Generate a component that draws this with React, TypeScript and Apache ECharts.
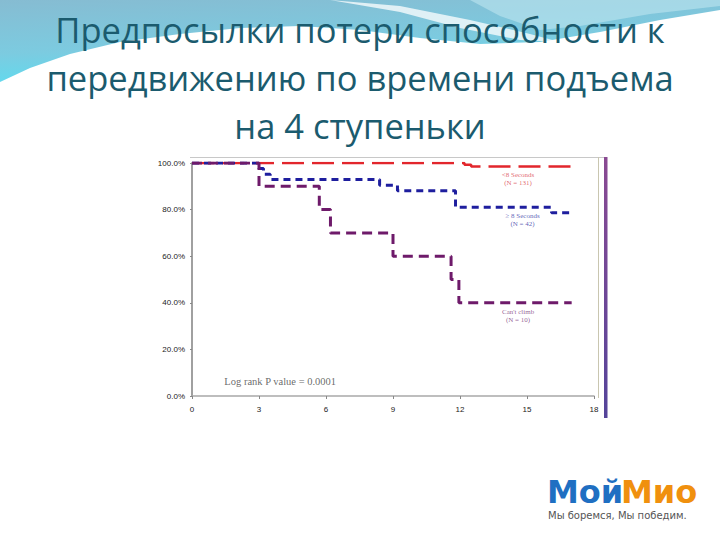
import React, { useEffect, useRef } from "react";
import * as echarts from "echarts";

const titleLines = [
  "Предпосылки потери способности к",
  "передвижению по времени подъема",
  "на 4 ступеньки",
];
const xMin = 0;
const xMax = 18;
const xStep = 3;
const yMin = 0;
const yMax = 100;
const yStep = 20;

const fastTimes = [0, 12.2, 12.5, 17.1];
const fastSurv = [100, 99.2, 98.5, 98.5];
const slowTimes = [0, 3, 3.2, 3.5, 8.4, 9.2, 11.8, 16.1, 17.0];
const slowSurv = [100, 97.6, 95.2, 92.9, 90.5, 88.1, 81.0, 78.6, 78.6];
const cantTimes = [0, 3, 5.7, 6.2, 9, 11.6, 11.95, 17];
const cantSurv = [100, 90, 80, 70, 60, 50, 40, 40];

const groupLabels = ["<8 Seconds\n(N = 131)", "≥ 8 Seconds\n(N = 42)", "Can't climb\n(N = 10)"];
const pValueText = "Log rank P value = 0.0001";
const logoA = "Мой";
const logoB = "Мио";
const slogan = "Мы боремся, Мы победим.";

const zip = (t: number[], v: number[]) => t.map((x, i) => [x, v[i]]);

export default function App() {
  const ref = useRef<HTMLDivElement>(null);
  useEffect(() => {
    if (!ref.current) return;
    const chart = echarts.init(ref.current, undefined, { renderer: "svg" });
    const labelSeries = (name: string, pos: number[], text: string, color: string) => ({
      type: "scatter",
      name,
      data: [pos],
      symbolSize: 0,
      silent: true,
      z: 5,
      label: {
        show: true,
        position: "inside",
        formatter: text,
        fontSize: 7,
        lineHeight: 8,
        fontFamily: "Liberation Serif",
        color,
      },
    });
    chart.setOption({
      animation: false,
      backgroundColor: "#ffffff",
      grid: { left: 192, right: 126, top: 163, bottom: 144, containLabel: false },
      xAxis: {
        type: "value",
        min: xMin,
        max: xMax,
        interval: xStep,
        offset: 2,
        splitLine: { show: false },
        axisLine: { lineStyle: { color: "#a8a8a8", width: 1.5 } },
        axisTick: { show: true, length: 3, lineStyle: { color: "#888" } },
        axisLabel: { fontSize: 8, color: "#222", margin: 7, fontFamily: "Liberation Sans" },
      },
      yAxis: {
        type: "value",
        min: yMin,
        max: yMax,
        interval: yStep,
        offset: 2,
        splitLine: { show: false },
        axisLine: { show: true, lineStyle: { color: "#a0a0a0", width: 2 } },
        axisTick: { show: true, length: 2, lineStyle: { color: "#888" } },
        axisLabel: {
          fontSize: 8,
          color: "#222",
          margin: 5,
          fontFamily: "Liberation Sans",
          formatter: (v: number) => v.toFixed(1) + "%",
        },
      },
      series: [
        {
          type: "line",
          name: "fast",
          step: "end",
          data: zip(fastTimes, fastSurv),
          showSymbol: false,
          lineStyle: { color: "#e2262c", width: 2.5, type: [22, 8] },
          z: 2,
        },
        {
          type: "line",
          name: "slow",
          step: "end",
          data: zip(slowTimes, slowSurv),
          showSymbol: false,
          lineStyle: { color: "#1e1e9e", width: 3, type: [7, 5] },
          z: 3,
        },
        {
          type: "line",
          name: "cant",
          step: "end",
          data: zip(cantTimes, cantSurv),
          showSymbol: false,
          lineStyle: { color: "#6e1a6a", width: 3, type: [10, 6] },
          z: 4,
        },
        labelSeries("l1", [14.6, 93.3], groupLabels[0], "#d8404a"),
        labelSeries("l2", [14.8, 75.5], groupLabels[1], "#3535a5"),
        labelSeries("l3", [14.6, 34.5], groupLabels[2], "#7a3a7a"),
        {
          type: "scatter",
          name: "p",
          data: [[3.95, 6.4]],
          symbolSize: 0,
          silent: true,
          label: {
            show: true,
            position: "inside",
            formatter: pValueText,
            fontSize: 10.5,
            fontFamily: "Liberation Serif",
            color: "#444",
          },
        },
      ],
      graphic: [
        {
          type: "polygon",
          z: -10,
          shape: {
            points: [
              [0, 0], [720, 0], [720, 10], [660, 20], [600, 32], [540, 42], [480, 44],
              [420, 38], [360, 30], [300, 26], [240, 28], [180, 34], [120, 42], [70, 54], [30, 68], [0, 82],
            ],
          },
          style: {
            fill: new echarts.graphic.LinearGradient(0, 0, 0.3, 1, [
              { offset: 0, color: "#86bcd2" },
              { offset: 0.6, color: "#7ccbe0" },
              { offset: 1, color: "#5edcf0" },
            ]),
          },
        },
        {
          type: "polygon",
          z: -9,
          shape: {
            points: [
              [330, 0], [400, 6], [470, 20], [530, 34], [560, 42], [520, 40], [460, 28], [400, 12],
            ],
          },
          style: { fill: "rgba(255,255,255,0.75)" },
        },
        {
          type: "polygon",
          z: -9,
          shape: {
            points: [
              [470, 0], [720, 0], [720, 6], [650, 14], [580, 26], [540, 30], [500, 16],
            ],
          },
          style: { fill: "rgba(190,230,240,0.6)" },
        },
        ...titleLines.map((t, i) => ({
          type: "text",
          z: 10,
          x: 360,
          y: 29 + i * 48,
          style: {
            text: t,
            fill: "#1b5b6e",
            font: "34.5px 'Open Sans'",
            align: "center",
            verticalAlign: "middle",
          },
        })),
        {
          type: "line",
          z: 1,
          shape: { x1: 190, y1: 157.5, x2: 604, y2: 157.5 },
          style: { stroke: "#c8c8c8", lineWidth: 1 },
        },
        {
          type: "line",
          z: 1,
          shape: { x1: 598.5, y1: 157, x2: 598.5, y2: 398 },
          style: { stroke: "#c9c6b0", lineWidth: 1 },
        },
        {
          type: "rect",
          z: 1,
          shape: { x: 604, y: 157, width: 3.5, height: 261 },
          style: {
            fill: new echarts.graphic.LinearGradient(0, 0, 0, 1, [
              { offset: 0, color: "#8a4a92" },
              { offset: 1, color: "#54449a" },
            ]),
          },
        },
        {
          type: "text",
          z: 10,
          x: 547,
          y: 492,
          style: {
            text: logoA,
            fill: "#1f6fc2",
            font: "bold 32px 'DejaVu Sans'",
            align: "left",
            verticalAlign: "middle",
            lineHeight: 30,
          },
        },
        {
          type: "text",
          z: 10,
          x: 621,
          y: 492,
          style: {
            text: logoB,
            fill: "#f0900e",
            font: "bold 32px 'DejaVu Sans'",
            align: "left",
            verticalAlign: "middle",
            lineHeight: 30,
          },
        },
        {
          type: "text",
          z: 10,
          x: 548,
          y: 515,
          style: {
            text: slogan,
            fill: "#555",
            font: "10px 'DejaVu Sans'",
            align: "left",
            verticalAlign: "middle",
          },
        },
      ],
    });
    return () => chart.dispose();
  }, []);
  return (
    <div
      ref={ref}
      style={{ position: "fixed", left: 0, top: 0, width: 720, height: 540 }}
    />
  );
}
